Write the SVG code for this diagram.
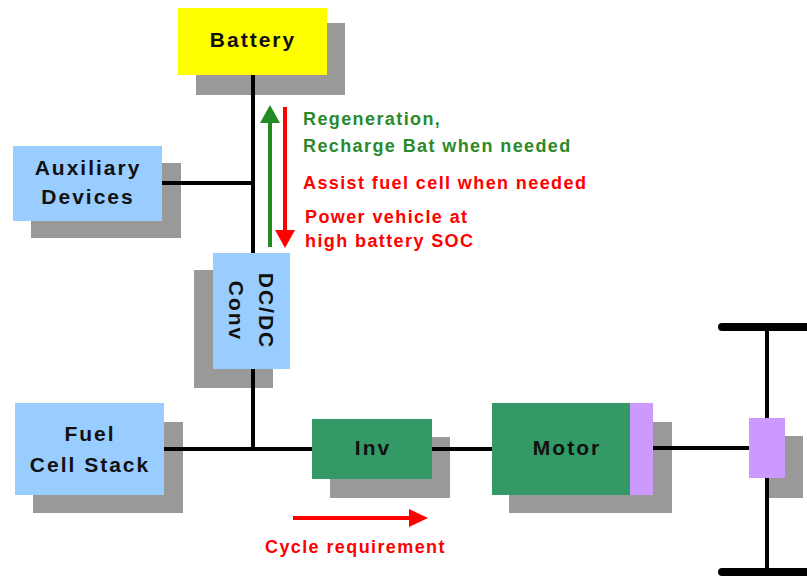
<svg xmlns="http://www.w3.org/2000/svg" width="807" height="577" viewBox="0 0 807 577">
<style>
.sh{fill:#999999}
.blue{fill:#99CCFF}
.green{fill:#339966}
.purple{fill:#CC99FF}
.yellow{fill:#FFFF00}
.lbl{font-family:"Liberation Sans",Arial,sans-serif;font-weight:bold;font-size:21px;letter-spacing:2px;fill:#111111;text-anchor:middle}
.ann{font-family:"Liberation Sans",Arial,sans-serif;font-weight:bold;font-size:18px;letter-spacing:1.4px}
.wire{stroke:#000000;stroke-width:4;fill:none}
</style>
<rect width="807" height="577" fill="#ffffff"/>
<g id="battery">
  <rect class="sh" x="196" y="23" width="149" height="72"/>
  <rect class="yellow" x="178" y="8" width="149" height="67"/>
  <text class="lbl" x="253" y="47">Battery</text>
</g>
<g id="auxiliary">
  <rect class="sh" x="31" y="163" width="150" height="75"/>
  <rect class="blue" x="13" y="146" width="149" height="75"/>
  <text class="lbl" x="88" y="175">Auxiliary</text>
  <text class="lbl" x="88" y="204">Devices</text>
</g>
<g id="dcdc">
  <rect class="sh" x="194" y="270" width="79" height="118"/>
  <rect class="blue" x="213" y="253" width="77" height="116"/>
  <g transform="translate(245,311) rotate(90)">
    <text class="lbl" x="0" y="-14">DC/DC</text>
    <text class="lbl" x="0" y="16">Conv</text>
  </g>
</g>
<g id="fuelcell">
  <rect class="sh" x="33" y="422" width="150" height="91"/>
  <rect class="blue" x="15" y="403" width="149" height="92"/>
  <text class="lbl" x="90" y="441">Fuel</text>
  <text class="lbl" x="90" y="472">Cell Stack</text>
</g>
<g id="inv">
  <rect class="sh" x="330" y="437" width="120" height="61"/>
  <rect class="green" x="312" y="419" width="120" height="60"/>
  <text class="lbl" x="373" y="455">Inv</text>
</g>
<g id="motor">
  <rect class="sh" x="509" y="422" width="163" height="91"/>
  <rect class="green" x="492" y="403" width="138" height="92"/>
  <rect class="purple" x="630" y="403" width="23" height="92"/>
  <text class="lbl" x="567" y="455">Motor</text>
</g>
<g id="hub">
  <rect class="sh" x="767" y="436" width="36" height="62"/>
  <rect class="purple" x="749" y="418" width="36" height="60"/>
</g>
<g id="connectors">
  <line class="wire" x1="253" y1="75" x2="253" y2="253"/>
  <line class="wire" x1="162" y1="183" x2="253" y2="183" stroke-width="3"/>
  <line class="wire" x1="253" y1="369" x2="253" y2="449"/>
  <line class="wire" x1="164" y1="449" x2="312" y2="449"/>
  <line class="wire" x1="432" y1="449" x2="492" y2="449"/>
  <line class="wire" x1="653" y1="448" x2="749" y2="448"/>
  <line class="wire" x1="767" y1="327" x2="767" y2="418" stroke-width="5"/>
  <line class="wire" x1="767" y1="478" x2="767" y2="572" stroke-width="5"/>
  <line x1="722" y1="327" x2="810" y2="327" stroke="#000" stroke-width="8" stroke-linecap="round"/>
  <line x1="722" y1="572" x2="810" y2="572" stroke="#000" stroke-width="8" stroke-linecap="round"/>
</g>
<g id="flow-arrows">
  <line x1="270" y1="247" x2="270" y2="120" stroke="#228B22" stroke-width="4"/>
  <polygon points="270,105 260,123 280,123" fill="#228B22"/>
  <line x1="285" y1="107" x2="285" y2="232" stroke="#FF0000" stroke-width="4"/>
  <polygon points="285,248 275,230 295,230" fill="#FF0000"/>
  <line x1="293" y1="518" x2="412" y2="518" stroke="#FF0000" stroke-width="4"/>
  <polygon points="428,518 409,509 409,527" fill="#FF0000"/>
</g>
<g id="annotations">
  <text class="ann" x="303" y="125" fill="#2A8A2A">Regeneration,</text>
  <text class="ann" x="303" y="152" fill="#2A8A2A">Recharge Bat when needed</text>
  <text class="ann" x="303" y="189" fill="#FF0000">Assist fuel cell when needed</text>
  <text class="ann" x="305" y="223" fill="#FF0000">Power vehicle at</text>
  <text class="ann" x="305" y="247" fill="#FF0000">high battery SOC</text>
  <text class="ann" x="265" y="553" fill="#FF0000">Cycle requirement</text>
</g>
</svg>
